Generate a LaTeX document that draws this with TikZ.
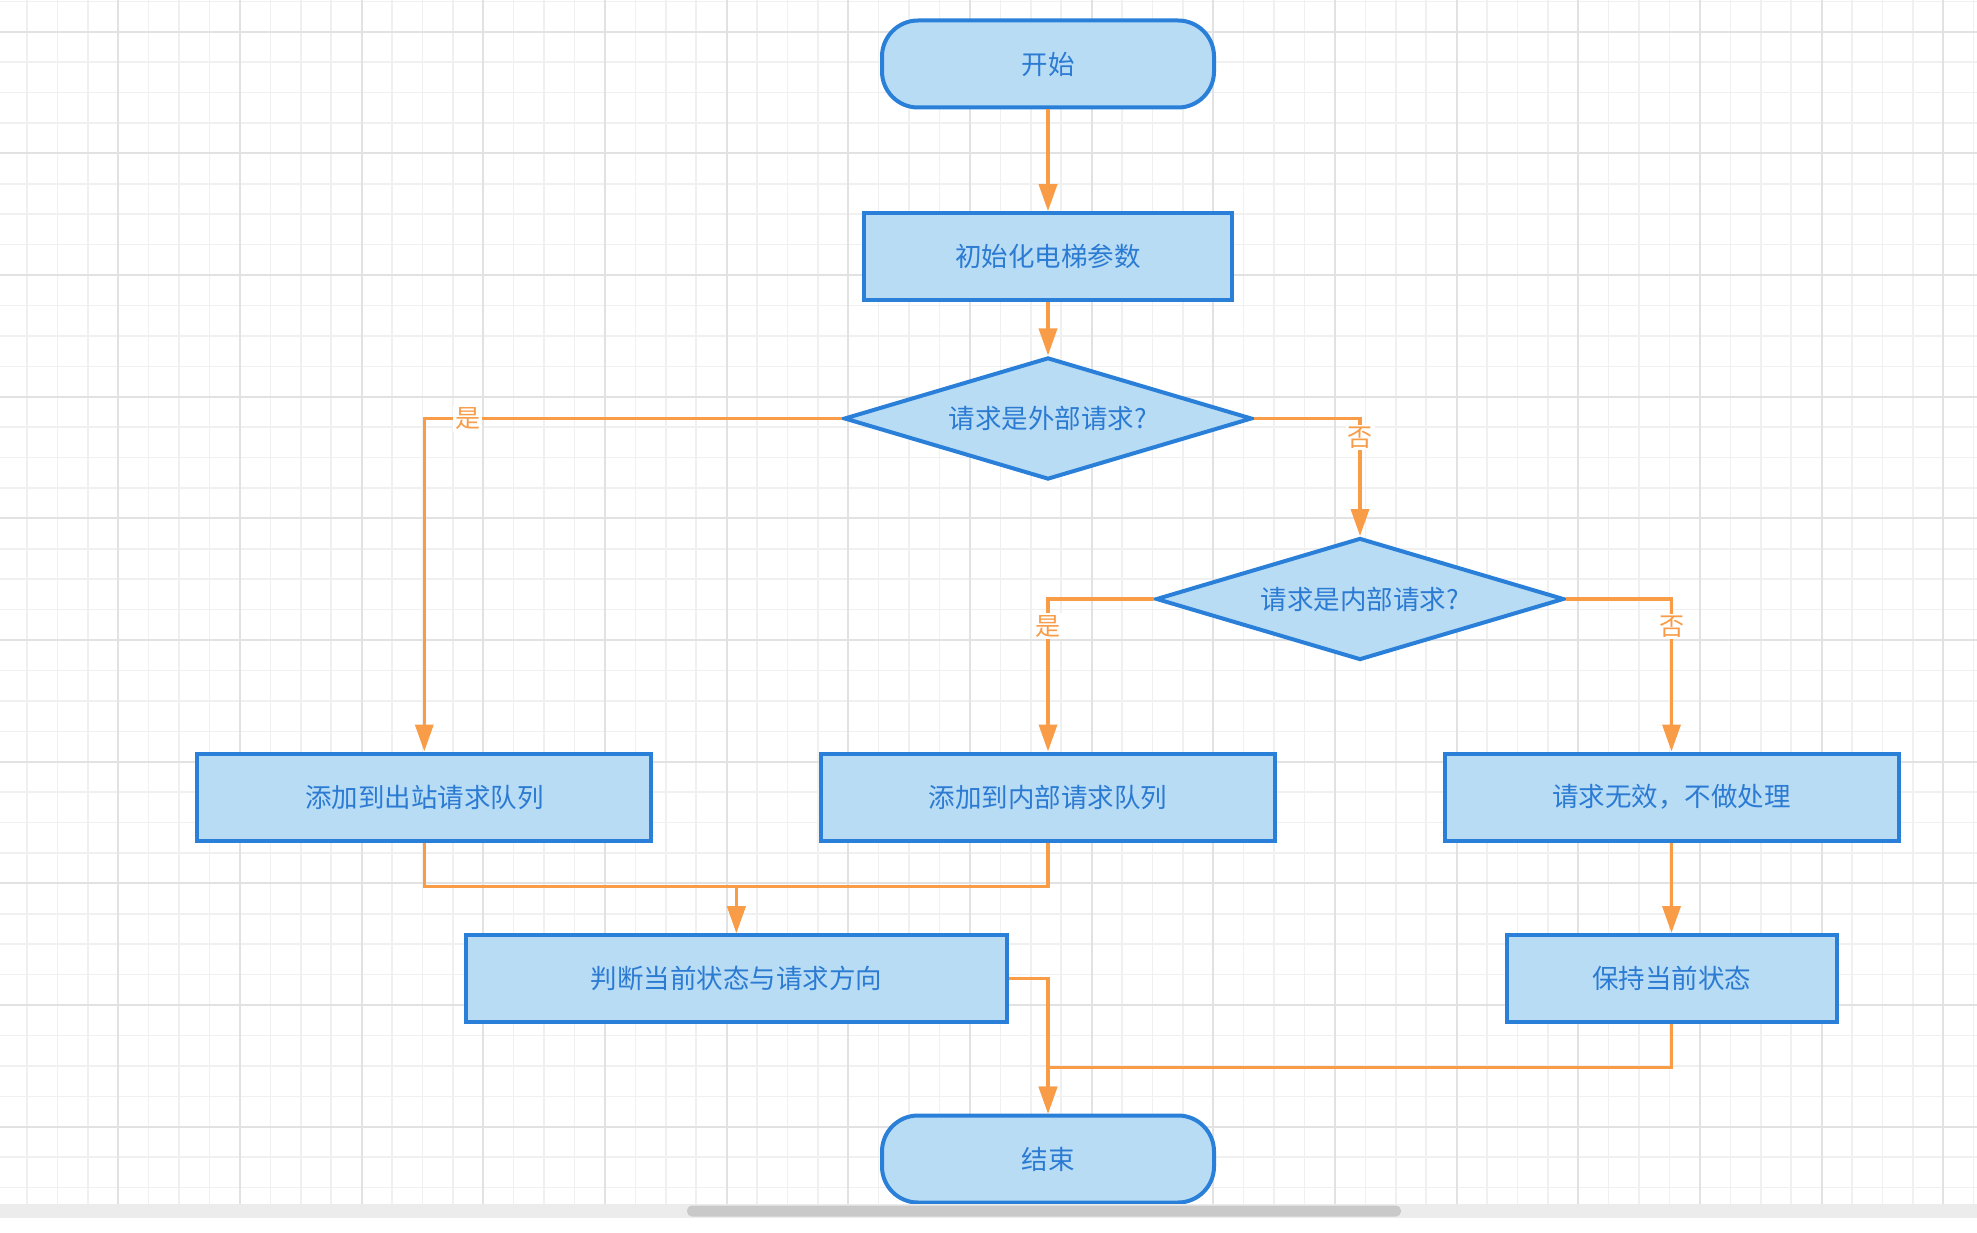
\documentclass[tikz,border=0pt]{standalone}
\usepackage{fontspec}
\newfontfamily\cjk{Noto Sans CJK SC}
\usetikzlibrary{shapes.geometric,arrows.meta}
\definecolor{boxfill}{HTML}{B9DCF5}
\definecolor{boxline}{HTML}{2A80D8}
\definecolor{boxtext}{HTML}{2B7BD3}
\definecolor{flow}{HTML}{F89C48}
\definecolor{gridminor}{HTML}{F0F0F0}
\definecolor{gridmajor}{HTML}{E2E2E2}

\begin{document}
\begin{tikzpicture}[x=1pt, y=-1pt,
    base/.style={draw=boxline, fill=boxfill, line width=4pt, text=boxtext, inner sep=0pt, font=\cjk\fontsize{26.5}{30}\selectfont},
    terminal/.style={base, rectangle, rounded corners=36pt, minimum width=332pt, minimum height=87pt},
    process/.style={base, rectangle, minimum height=87pt},
    decision/.style={base, diamond, aspect=3.3, minimum width=408pt, minimum height=122pt},
    flowline/.style={draw=flow, line width=3.6pt, -{Triangle[length=27pt,width=18pt]}},
    answer/.style={fill=white, text=flow, inner sep=2pt, font=\cjk\fontsize{25}{28}\selectfont}]
    \useasboundingbox[fill=white] (0,0) rectangle (1977,1233);

    \foreach \gx in {0,...,65}
        \draw[gridminor, line width=1.5pt] ({-3.4+30.417*\gx},0) -- ({-3.4+30.417*\gx},1204);
    \foreach \gy in {0,...,39}
        \draw[gridminor, line width=1.5pt] (0,{1.28+30.417*\gy}) -- (1977,{1.28+30.417*\gy});
    \foreach \gx in {0,...,16}
        \draw[gridmajor, line width=2pt] ({-3.4+121.67*\gx},0) -- ({-3.4+121.67*\gx},1204);
    \foreach \gy in {0,...,9}
        \draw[gridmajor, line width=2pt] (0,{31.7+121.67*\gy}) -- (1977,{31.7+121.67*\gy});

    \node[terminal] (start) at (1048,64) {开始};
    \node[process, minimum width=368pt] (init) at (1048,256.7) {初始化电梯参数};
    \node[decision] (outer) at (1048,418.5) {请求是外部请求?};
    \node[decision] (inner) at (1360,599) {请求是内部请求?};
    \node[process, minimum width=454pt] (outq) at (424.3,797) {添加到出站请求队列};
    \node[process, minimum width=454pt] (inq) at (1048,797) {添加到内部请求队列};
    \node[process, minimum width=454pt] (invalid) at (1671.5,797) {请求无效，不做处理};
    \node[process, minimum width=541pt] (judge) at (736.4,978.5) {判断当前状态与请求方向};
    \node[process, minimum width=330pt] (keep) at (1671.5,978.5) {保持当前状态};
    \node[terminal] (end) at (1048,1159) {结束};
    \coordinate (merge) at (736.4,886.5);
    \coordinate (join) at (1048,1067.3);

    \draw[flowline] (start) -- (init);
    \draw[flowline] (init) -- (outer);
    \draw[flowline] (outer.west) -| node[answer, pos=0.448] {是} (outq);
    \draw[flowline] (outer.east) -| node[answer, pos=0.58] {否} (inner);
    \draw[flowline] (inner.west) -| node[answer, pos=0.59] {是} (inq);
    \draw[flowline] (inner.east) -| node[answer, pos=0.59] {否} (invalid);
    \draw[flowline] (outq) |- (merge) -- (judge);
    \draw[flowline] (inq) |- (merge) -- (judge);
    \draw[flowline] (invalid) -- (keep);
    \draw[flowline] (judge) -| (end);
    \draw[flowline] (keep) |- (join) -- (end);

    \fill[gray!15] (0,1204) rectangle (1977,1217.5);
    \fill[gray!42, rounded corners=5pt] (687,1205.5) rectangle (1401,1216.5);
\end{tikzpicture}
\end{document}
